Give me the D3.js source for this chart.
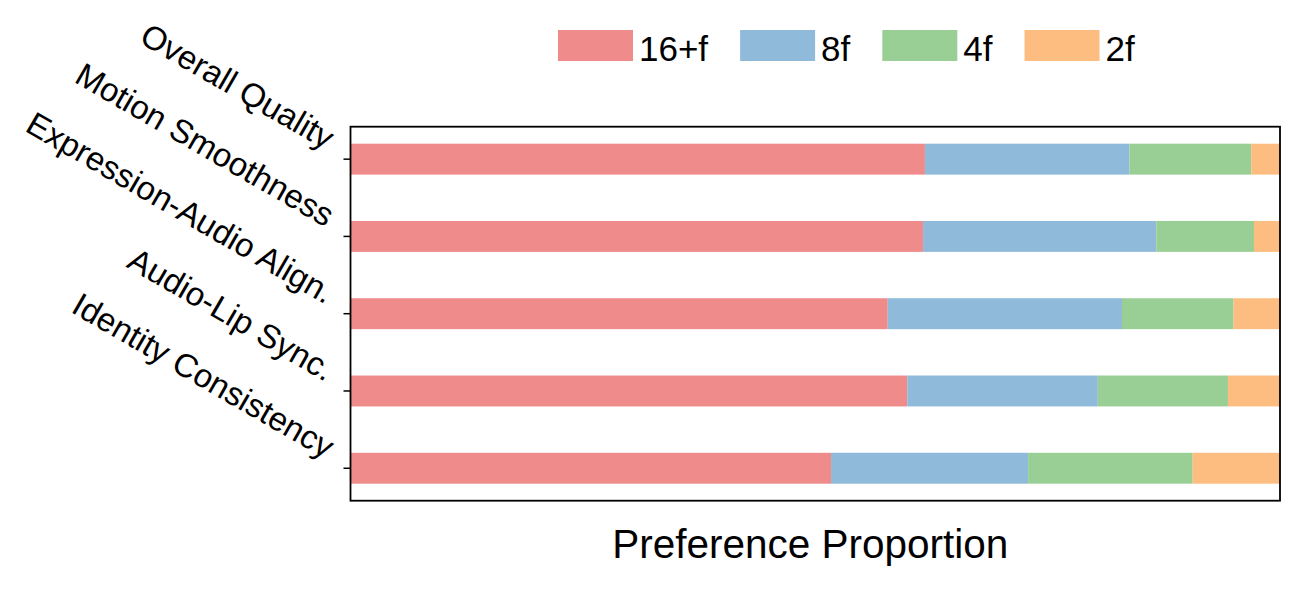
<!DOCTYPE html>
<html>
<head>
<meta charset="utf-8">
<script src="https://cdn.jsdelivr.net/npm/d3@7"></script>
<style>
  html, body { margin: 0; padding: 0; background: #fff; }
  svg { display: block; font-family: "Liberation Sans", Arial, sans-serif; }
</style>
</head>
<body>
<svg id="chart"></svg>
<script>
// Stacked preference proportions per evaluation criterion

const CRITERIA = [
  "Overall Quality",
  "Motion Smoothness",
  "Expression-Audio Align.",
  "Audio-Lip Sync.",
  "Identity Consistency"
];
const SERIES = ["16+f", "8f", "4f", "2f"];
const VALS_16F = [0.618, 0.616, 0.578, 0.599, 0.517];
const VALS_8F  = [0.220, 0.251, 0.252, 0.205, 0.212];
const VALS_4F  = [0.131, 0.105, 0.120, 0.140, 0.177];
const VALS_2F  = [0.031, 0.028, 0.050, 0.056, 0.094];
const COLORS = ["#f08b8c", "#8fbad9", "#99cf95", "#febd80"];

const W = 1295, H = 592;
const plot = { left: 350.5, right: 1280, top: 126.7, bottom: 500.7 };

const svg = d3.select("#chart").attr("width", W).attr("height", H);

const x = d3.scaleLinear().domain([0, 1]).range([plot.left, plot.right]);
const y = d3.scaleBand()
  .domain(CRITERIA)
  .range([plot.top, plot.bottom])
  .paddingInner(0.6)
  .paddingOuter(0.22);

const rows = CRITERIA.map((c, i) => ({
  criterion: c,
  "16+f": VALS_16F[i], "8f": VALS_8F[i], "4f": VALS_4F[i], "2f": VALS_2F[i]
}));
const stacked = d3.stack().keys(SERIES)(rows);

svg.append("g")
  .selectAll("g")
  .data(stacked)
  .join("g")
    .attr("fill", (d, i) => COLORS[i])
  .selectAll("rect")
  .data(d => d)
  .join("rect")
    .attr("x", d => x(d[0]))
    .attr("width", d => x(d[1]) - x(d[0]))
    .attr("y", d => y(d.data.criterion))
    .attr("height", y.bandwidth());

// frame
svg.append("rect")
  .attr("x", plot.left).attr("y", plot.top)
  .attr("width", plot.right - plot.left)
  .attr("height", plot.bottom - plot.top)
  .attr("fill", "none").attr("stroke", "#000").attr("stroke-width", 1.8);

// y ticks + rotated labels
const yAxis = svg.append("g");
CRITERIA.forEach(c => {
  const cy = y(c) + y.bandwidth() / 2;
  yAxis.append("line")
    .attr("x1", plot.left - 7).attr("x2", plot.left)
    .attr("y1", cy).attr("y2", cy)
    .attr("stroke", "#000").attr("stroke-width", 1.5);
  yAxis.append("text")
    .attr("transform", `translate(${plot.left - 25},${cy - 9}) rotate(30)`)
    .attr("text-anchor", "end")
    .attr("font-size", 33)
    .text(c);
});

// x label
svg.append("text")
  .attr("x", (plot.left + plot.right) / 2 - 5)
  .attr("y", 558)
  .attr("text-anchor", "middle")
  .attr("font-size", 40.5)
  .text("Preference Proportion");

// legend
const legend = svg.append("g");
let lx = 558;
SERIES.forEach((s, i) => {
  legend.append("rect")
    .attr("x", lx).attr("y", 30)
    .attr("width", 75).attr("height", 31)
    .attr("fill", COLORS[i]);
  const t = legend.append("text")
    .attr("x", lx + 81).attr("y", 61)
    .attr("font-size", 35)
    .text(s);
  lx += 81 + t.node().getComputedTextLength() + 32;
});
</script>
</body>
</html>
